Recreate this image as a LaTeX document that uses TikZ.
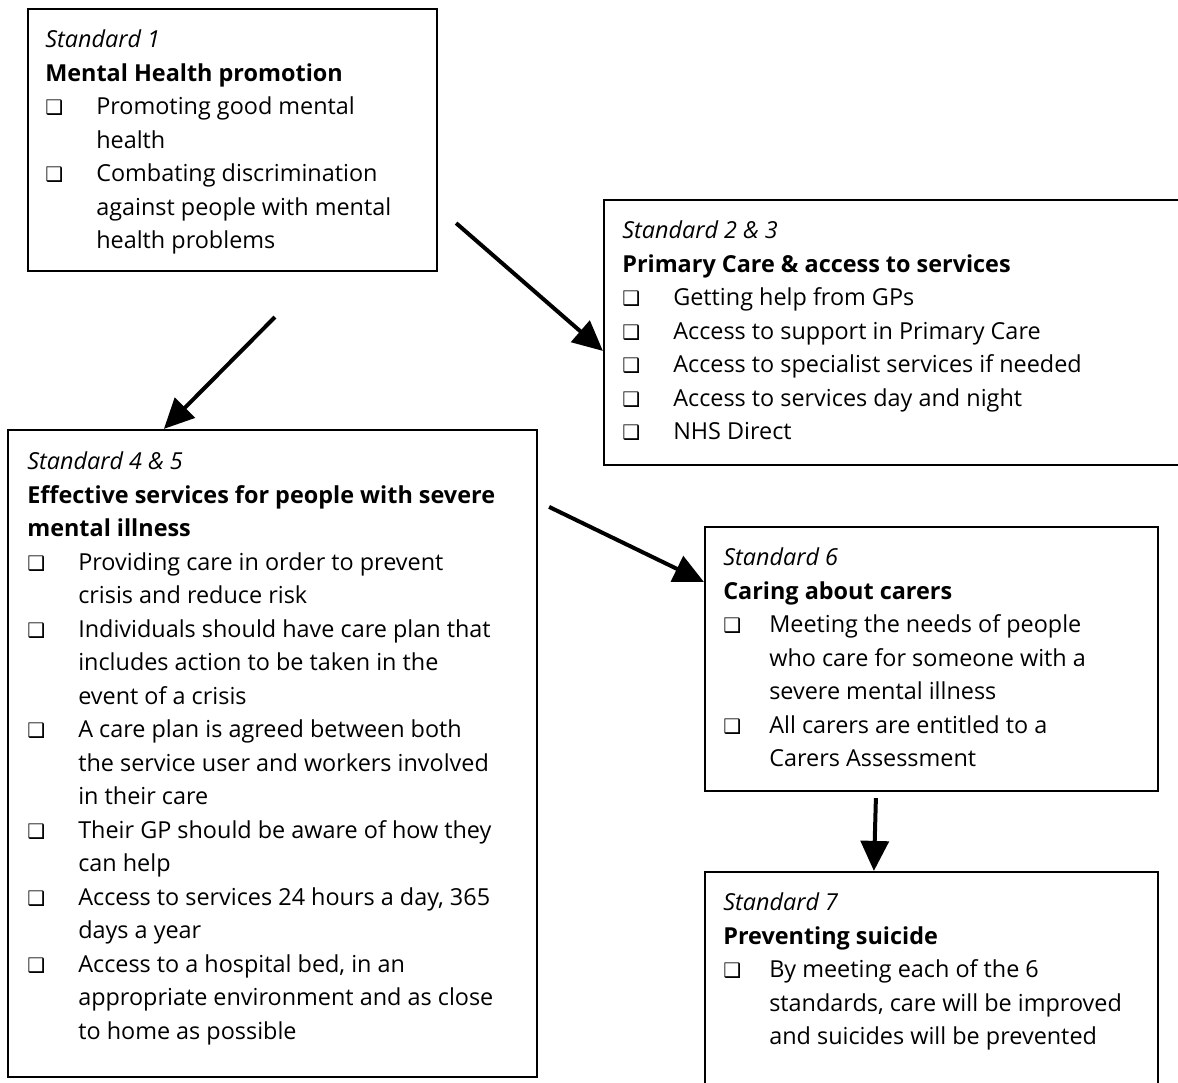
\documentclass[tikz,border=0pt]{standalone}
\usepackage{fontspec}
\setmainfont{Open Sans}
\newfontfamily\symfont{DejaVu Sans}
\usetikzlibrary{arrows.meta,calc,fit}
\newcommand{\bul}{{\symfont\fontsize{10}{10}\selectfont ❑}}
\newcommand{\hd}[1]{\multicolumn{2}{@{}l@{}}{#1}}
\tikzset{
 box/.style={draw, line width=1.1pt, inner sep=0pt},
 txt/.style={anchor=base west, inner sep=0pt, font=\fontsize{11.7}{16.75}\selectfont},
 arr/.style={line width=2pt, -{Triangle[length=15pt,width=14pt]}},
}
\begin{document}
\begin{tikzpicture}[x=0.5pt,y=-0.5pt]
\useasboundingbox (0,0) rectangle (1178,1082);
\clip (0,0) rectangle (1178,1082);
\fill[white] (0,0) rectangle (1178,1082);

\node[box, fit={(28,9)(437,271)}] (b1) {};
\node[box, fit={(604,200)(1210,465)}] (b2) {};
\node[box, fit={(8,430)(537,1077)}] (b3) {};
\node[box, fit={(705,527)(1158,791)}] (b4) {};
\node[box, fit={(705,872)(1158,1110)}] (b5) {};

\node[txt] (t1) at ($(b1.north west)+(18,40)$) {\begin{tabular}[t]{@{}p{25.5pt}@{}l@{}}
\hd{\textit{Standard 1}}\\
\hd{\textbf{Mental Health promotion}}\\
\bul & Promoting good mental\\
 & health\\
\bul & Combating discrimination\\
 & against people with mental\\
 & health problems
\end{tabular}};

\node[txt] (t2) at ($(b2.north west)+(19,40)$) {\begin{tabular}[t]{@{}p{25.5pt}@{}l@{}}
\hd{\textit{Standard 2 \& 3}}\\
\hd{\textbf{Primary Care \& access to services}}\\
\bul & Getting help from GPs\\
\bul & Access to support in Primary Care\\
\bul & Access to specialist services if needed\\
\bul & Access to services day and night\\
\bul & NHS Direct
\end{tabular}};

\node[txt] (t3) at ($(b3.north west)+(20,41)$) {\begin{tabular}[t]{@{}p{25.5pt}@{}l@{}}
\hd{\textit{Standard 4 \& 5}}\\
\hd{\textbf{Effective services for people with severe}}\\
\hd{\textbf{mental illness}}\\
\bul & Providing care in order to prevent\\
 & crisis and reduce risk\\
\bul & Individuals should have care plan that\\
 & includes action to be taken in the\\
 & event of a crisis\\
\bul & A care plan is agreed between both\\
 & the service user and workers involved\\
 & in their care\\
\bul & Their GP should be aware of how they\\
 & can help\\
\bul & Access to services 24 hours a day, 365\\
 & days a year\\
\bul & Access to a hospital bed, in an\\
 & appropriate environment and as close\\
 & to home as possible
\end{tabular}};

\node[txt] (t4) at ($(b4.north west)+(19,40)$) {\begin{tabular}[t]{@{}p{23pt}@{}l@{}}
\hd{\textit{Standard 6}}\\
\hd{\textbf{Caring about carers}}\\
\bul & Meeting the needs of people\\
 & who care for someone with a\\
 & severe mental illness\\
\bul & All carers are entitled to a\\
 & Carers Assessment
\end{tabular}};

\node[txt] (t5) at ($(b5.north west)+(19,40)$) {\begin{tabular}[t]{@{}p{23pt}@{}l@{}}
\hd{\textit{Standard 7}}\\
\hd{\textbf{Preventing suicide}}\\
\bul & By meeting each of the 6\\
 & standards, care will be improved\\
 & and suicides will be prevented
\end{tabular}};

\coordinate (s1) at ($(b1.south east)+(18,-49)$);
\coordinate (s2) at ($(b1.south west)+(248,45)$);
\coordinate (s3) at ($(b3.north east)+(11,78)$);
\coordinate (s4) at ($(b4.south west)+(172,6)$);

\draw[arr] (s1) -- ($(b2.north west)+(0,152)$);
\draw[arr] (s2) -- ($(b3.north west)+(157,0)$);
\draw[arr] (s3) -- ($(b4.north west)+(0,56)$);
\draw[arr] (s4) -- ($(b5.north west)+(170,0)$);
\end{tikzpicture}
\end{document}
